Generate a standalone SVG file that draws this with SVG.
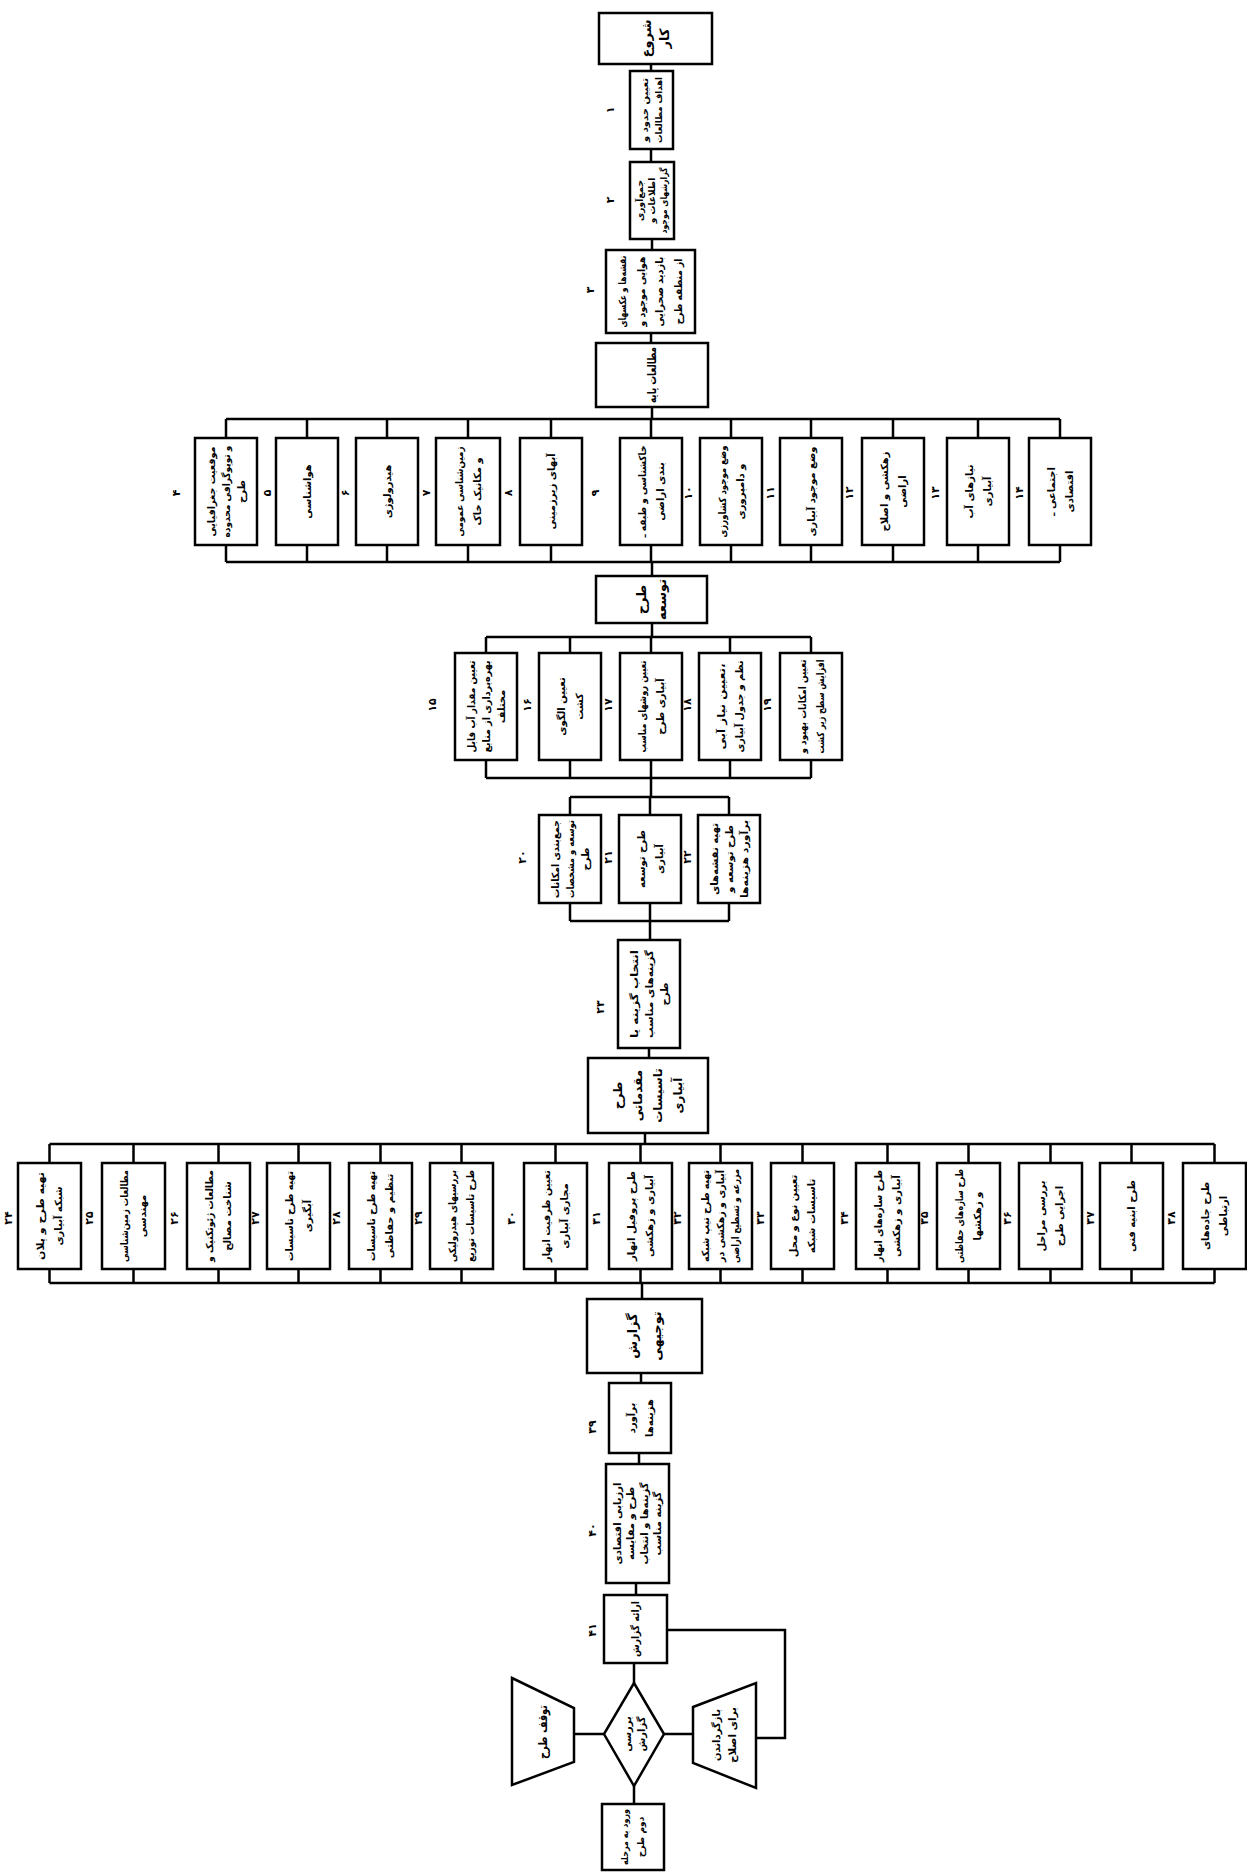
<svg xmlns="http://www.w3.org/2000/svg" width="1247" height="1876" viewBox="0 0 1247 1876">
<style>
.b{fill:#fff;stroke:#000;stroke-width:2.5}
.c{fill:none;stroke:#000;stroke-width:2.5}
text{font-family:"DejaVu Sans",sans-serif;font-weight:bold;text-anchor:middle;dominant-baseline:central;fill:#000}
.t{font-size:10px}
.s{font-size:9px}
.m{font-size:12px}
.l{font-size:13px}
.n{font-size:11px}
</style>
<rect width="1247" height="1876" fill="#fff"/>
<g id="connectors" class="c">
<path d="M651,64V71 M651,149V162 M652,239V250 M651,333V343 M652,407V419"/>
<path d="M226,419H1060 M226,562H1060 M226,419V438 M307,419V438 M387,419V438 M468,419V438 M551,419V438 M651,419V438 M731,419V438 M811,419V438 M893,419V438 M978,419V438 M1060,419V438 M226,545V562 M307,545V562 M387,545V562 M468,545V562 M551,545V562 M651,545V562 M731,545V562 M811,545V562 M893,545V562 M978,545V562 M1060,545V562 M652,562V576"/>
<path d="M652,623V637 M486,637H811 M486,778H811 M486,637V653 M570,637V653 M651,637V653 M730,637V653 M811,637V653 M486,760V778 M570,760V778 M651,760V778 M730,760V778 M811,760V778 M651,778V797"/>
<path d="M570,797H729 M570,921H729 M570,797V815 M650,797V815 M729,797V815 M570,903V921 M650,903V921 M729,903V921 M650,921V940 M649,1048V1058 M645,1133V1144"/>
<path d="M49.5,1144H1214.5 M49.5,1283H1214.5 M49.5,1144V1163 M133.5,1144V1163 M218.5,1144V1163 M298.5,1144V1163 M380.5,1144V1163 M461.5,1144V1163 M555.5,1144V1163 M640.5,1144V1163 M720.5,1144V1163 M802.5,1144V1163 M887.5,1144V1163 M968.5,1144V1163 M1050.5,1144V1163 M1131.5,1144V1163 M1214.5,1144V1163 M49.5,1269V1283 M133.5,1269V1283 M218.5,1269V1283 M298.5,1269V1283 M380.5,1269V1283 M461.5,1269V1283 M555.5,1269V1283 M640.5,1269V1283 M720.5,1269V1283 M802.5,1269V1283 M887.5,1269V1283 M968.5,1269V1283 M1050.5,1269V1283 M1131.5,1269V1283 M1214.5,1269V1283"/>
<path d="M642,1283V1299 M641,1373V1383 M639,1453V1464 M636,1583V1595 M634,1663V1683 M604,1734H574 M664,1734H693 M634,1786V1804 M756,1738H785V1630H667"/>
</g>
<g id="labels" class="n">
<text transform="translate(610,110) rotate(-90)">۱</text>
<text transform="translate(610,200) rotate(-90)">۲</text>
<text transform="translate(590,290) rotate(-90)">۳</text>
<text transform="translate(176,493) rotate(-90)">۴</text>
<text transform="translate(267,493) rotate(-90)">۵</text>
<text transform="translate(345,493) rotate(-90)">۶</text>
<text transform="translate(426,493) rotate(-90)">۷</text>
<text transform="translate(508,493) rotate(-90)">۸</text>
<text transform="translate(595,493) rotate(-90)">۹</text>
<text transform="translate(688,493) rotate(-90)">۱۰</text>
<text transform="translate(770,493) rotate(-90)">۱۱</text>
<text transform="translate(849,493) rotate(-90)">۱۲</text>
<text transform="translate(935,493) rotate(-90)">۱۳</text>
<text transform="translate(1019,493) rotate(-90)">۱۴</text>
<text transform="translate(432,705) rotate(-90)">۱۵</text>
<text transform="translate(527,705) rotate(-90)">۱۶</text>
<text transform="translate(608,705) rotate(-90)">۱۷</text>
<text transform="translate(687,705) rotate(-90)">۱۸</text>
<text transform="translate(767,705) rotate(-90)">۱۹</text>
<text transform="translate(522,857) rotate(-90)">۲۰</text>
<text transform="translate(608,857) rotate(-90)">۲۱</text>
<text transform="translate(687,857) rotate(-90)">۲۲</text>
<text transform="translate(600,1007) rotate(-90)">۲۳</text>
<text transform="translate(8,1218) rotate(-90)">۲۴</text>
<text transform="translate(89,1218) rotate(-90)">۲۵</text>
<text transform="translate(174,1218) rotate(-90)">۲۶</text>
<text transform="translate(255,1218) rotate(-90)">۲۷</text>
<text transform="translate(336,1218) rotate(-90)">۲۸</text>
<text transform="translate(418,1218) rotate(-90)">۲۹</text>
<text transform="translate(511,1218) rotate(-90)">۳۰</text>
<text transform="translate(596,1218) rotate(-90)">۳۱</text>
<text transform="translate(677,1218) rotate(-90)">۳۲</text>
<text transform="translate(760,1218) rotate(-90)">۳۳</text>
<text transform="translate(844,1218) rotate(-90)">۳۴</text>
<text transform="translate(924,1218) rotate(-90)">۳۵</text>
<text transform="translate(1007,1218) rotate(-90)">۳۶</text>
<text transform="translate(1090,1218) rotate(-90)">۳۷</text>
<text transform="translate(1171,1218) rotate(-90)">۳۸</text>
<text transform="translate(592,1427) rotate(-90)">۳۹</text>
<text transform="translate(592,1530) rotate(-90)">۴۰</text>
<text transform="translate(592,1630) rotate(-90)">۴۱</text>
</g>
<g id="n0"><rect class="b" x="599" y="13" width="113" height="51"/><g transform="translate(655.5,38.5) rotate(-90)"><text class="l" y="-9">شروع</text><text class="l" y="9">کار</text></g></g>
<g id="n1"><rect class="b" x="630" y="71" width="43" height="78"/><g transform="translate(651.5,110) rotate(-90)"><text class="s" y="-7" textLength="64" lengthAdjust="spacingAndGlyphs">تعیین حدود و</text><text class="s" y="7" textLength="66" lengthAdjust="spacingAndGlyphs">اهداف مطالعات</text></g></g>
<g id="n2"><rect class="b" x="630" y="162" width="44" height="77"/><g transform="translate(652,200.5) rotate(-90)"><text class="s" y="-12">جمع‌آوری</text><text class="s" y="0">اطلاعات و</text><text class="s" y="12" textLength="66" lengthAdjust="spacingAndGlyphs">گزارشهای موجود</text></g></g>
<g id="n3"><rect class="b" x="606" y="250" width="89" height="83"/><g transform="translate(650.5,291.5) rotate(-90)"><text class="t" y="-28" textLength="72" lengthAdjust="spacingAndGlyphs">نقشه‌ها و عکسهای</text><text class="t" y="-9" textLength="70" lengthAdjust="spacingAndGlyphs">هوایی موجود و</text><text class="t" y="9" textLength="70" lengthAdjust="spacingAndGlyphs">بازدید صحرایی</text><text class="t" y="28" textLength="66" lengthAdjust="spacingAndGlyphs">از منطقه طرح</text></g></g>
<g id="n_base"><rect class="b" x="596" y="343" width="112" height="64"/><g transform="translate(652,375) rotate(-90)"><text class="m" textLength="56" lengthAdjust="spacingAndGlyphs">مطالعات پایه</text></g></g>
<g id="n4"><rect class="b" x="195" y="438" width="62" height="107"/><g transform="translate(226,491.5) rotate(-90)"><text class="t" y="-15" textLength="90" lengthAdjust="spacingAndGlyphs">موقعیت جغرافیایی</text><text class="t" y="0" textLength="92" lengthAdjust="spacingAndGlyphs">و توپوگرافی محدوده</text><text class="t" y="15">طرح</text></g></g>
<g id="n5"><rect class="b" x="276" y="438" width="62" height="107"/><g transform="translate(307,491.5) rotate(-90)"><text class="t">هواشناسی</text></g></g>
<g id="n6"><rect class="b" x="356" y="438" width="62" height="107"/><g transform="translate(387,491.5) rotate(-90)"><text class="t">هیدرولوژی</text></g></g>
<g id="n7"><rect class="b" x="436" y="438" width="64" height="107"/><g transform="translate(468,491.5) rotate(-90)"><text class="t" y="-9" textLength="90" lengthAdjust="spacingAndGlyphs">زمین‌شناسی عمومی</text><text class="t" y="9">و مکانیک خاک</text></g></g>
<g id="n8"><rect class="b" x="520" y="438" width="62" height="107"/><g transform="translate(551,491.5) rotate(-90)"><text class="t">آبهای زیرزمینی</text></g></g>
<g id="n9"><rect class="b" x="620" y="438" width="62" height="107"/><g transform="translate(651,491.5) rotate(-90)"><text class="t" y="-9" textLength="92" lengthAdjust="spacingAndGlyphs">خاکشناسی و طبقه ـ</text><text class="t" y="9">بندی اراضی</text></g></g>
<g id="n10"><rect class="b" x="700" y="438" width="62" height="107"/><g transform="translate(731,491.5) rotate(-90)"><text class="t" y="-9" textLength="92" lengthAdjust="spacingAndGlyphs">وضع موجود کشاورزی</text><text class="t" y="9">و دامپروری</text></g></g>
<g id="n11"><rect class="b" x="780" y="438" width="62" height="107"/><g transform="translate(811,491.5) rotate(-90)"><text class="t" textLength="90" lengthAdjust="spacingAndGlyphs">وضع موجود آبیاری</text></g></g>
<g id="n12"><rect class="b" x="862" y="438" width="62" height="107"/><g transform="translate(893,491.5) rotate(-90)"><text class="t" y="-9">زهکشی و اصلاح</text><text class="t" y="9">اراضی</text></g></g>
<g id="n13"><rect class="b" x="947" y="438" width="62" height="107"/><g transform="translate(978,491.5) rotate(-90)"><text class="t" y="-9">نیازهای آب</text><text class="t" y="9">آبیاری</text></g></g>
<g id="n14"><rect class="b" x="1029" y="438" width="62" height="107"/><g transform="translate(1060,491.5) rotate(-90)"><text class="t" y="-9">اجتماعی ـ</text><text class="t" y="9">اقتصادی</text></g></g>
<g id="n_dev"><rect class="b" x="596" y="576" width="111" height="47"/><g transform="translate(651.5,599.5) rotate(-90)"><text class="l" y="-10">طرح</text><text class="l" y="10">توسعه</text></g></g>
<g id="n15"><rect class="b" x="455" y="653" width="62" height="107"/><g transform="translate(486,706.5) rotate(-90)"><text class="t" y="-15" textLength="92" lengthAdjust="spacingAndGlyphs">تعیین مقدار آب قابل</text><text class="t" y="0" textLength="92" lengthAdjust="spacingAndGlyphs">بهره‌برداری از منابع</text><text class="t" y="15">مختلف</text></g></g>
<g id="n16"><rect class="b" x="539" y="653" width="62" height="107"/><g transform="translate(570,706.5) rotate(-90)"><text class="t" y="-9">تعیین الگوی</text><text class="t" y="9">کشت</text></g></g>
<g id="n17"><rect class="b" x="620" y="653" width="62" height="107"/><g transform="translate(651,706.5) rotate(-90)"><text class="t" y="-9" textLength="92" lengthAdjust="spacingAndGlyphs">تعیین روشهای مناسب</text><text class="t" y="9">آبیاری طرح</text></g></g>
<g id="n18"><rect class="b" x="699" y="653" width="62" height="107"/><g transform="translate(730,706.5) rotate(-90)"><text class="t" y="-9" textLength="86" lengthAdjust="spacingAndGlyphs">تعیین نیاز آبی،</text><text class="t" y="9" textLength="92" lengthAdjust="spacingAndGlyphs">نظم و جدول آبیاری</text></g></g>
<g id="n19"><rect class="b" x="780" y="653" width="62" height="107"/><g transform="translate(811,706.5) rotate(-90)"><text class="t" y="-9" textLength="94" lengthAdjust="spacingAndGlyphs">تعیین امکانات بهبود و</text><text class="t" y="9" textLength="94" lengthAdjust="spacingAndGlyphs">افزایش سطح زیر کشت</text></g></g>
<g id="n20"><rect class="b" x="539" y="815" width="62" height="88"/><g transform="translate(570,859) rotate(-90)"><text class="t" y="-15" textLength="78" lengthAdjust="spacingAndGlyphs">جمع‌بندی امکانات</text><text class="t" y="0" textLength="78" lengthAdjust="spacingAndGlyphs">توسعه و مشخصات</text><text class="t" y="15">طرح</text></g></g>
<g id="n21"><rect class="b" x="619" y="815" width="62" height="88"/><g transform="translate(650,859) rotate(-90)"><text class="t" y="-9">طرح توسعه</text><text class="t" y="9">آبیاری</text></g></g>
<g id="n22"><rect class="b" x="698" y="815" width="62" height="88"/><g transform="translate(729,859) rotate(-90)"><text class="t" y="-15" textLength="72" lengthAdjust="spacingAndGlyphs">تهیه نقشه‌های</text><text class="t" y="0">طرح توسعه و</text><text class="t" y="15" textLength="78" lengthAdjust="spacingAndGlyphs">برآورد هزینه‌ها</text></g></g>
<g id="n23"><rect class="b" x="618" y="940" width="62" height="108"/><g transform="translate(649,994) rotate(-90)"><text class="t" y="-15" textLength="88" lengthAdjust="spacingAndGlyphs">انتخاب گزینه یا</text><text class="t" y="0" textLength="88" lengthAdjust="spacingAndGlyphs">گزینه‌های مناسب</text><text class="t" y="15">طرح</text></g></g>
<g id="n_pre"><rect class="b" x="588" y="1058" width="120" height="75"/><g transform="translate(648,1095.5) rotate(-90)"><text class="m" y="-30">طرح</text><text class="m" y="-10">مقدماتی</text><text class="m" y="10">تاسیسات</text><text class="m" y="30">آبیاری</text></g></g>
<g id="n24"><rect class="b" x="18" y="1163" width="63" height="106"/><g transform="translate(49.5,1216) rotate(-90)"><text class="t" y="-9" textLength="88" lengthAdjust="spacingAndGlyphs">تهیه طرح و پلان</text><text class="t" y="9">شبکه آبیاری</text></g></g>
<g id="n25"><rect class="b" x="102" y="1163" width="63" height="106"/><g transform="translate(133.5,1216) rotate(-90)"><text class="t" y="-9" textLength="92" lengthAdjust="spacingAndGlyphs">مطالعات زمین‌شناسی</text><text class="t" y="9">مهندسی</text></g></g>
<g id="n26"><rect class="b" x="187" y="1163" width="63" height="106"/><g transform="translate(218.5,1216) rotate(-90)"><text class="t" y="-9" textLength="92" lengthAdjust="spacingAndGlyphs">مطالعات ژئوتکنیک و</text><text class="t" y="9">شناخت مصالح</text></g></g>
<g id="n27"><rect class="b" x="267" y="1163" width="63" height="106"/><g transform="translate(298.5,1216) rotate(-90)"><text class="t" y="-9" textLength="90" lengthAdjust="spacingAndGlyphs">تهیه طرح تاسیسات</text><text class="t" y="9">آبگیری</text></g></g>
<g id="n28"><rect class="b" x="349" y="1163" width="63" height="106"/><g transform="translate(380.5,1216) rotate(-90)"><text class="t" y="-9" textLength="90" lengthAdjust="spacingAndGlyphs">تهیه طرح تاسیسات</text><text class="t" y="9">تنظیم و حفاظتی</text></g></g>
<g id="n29"><rect class="b" x="430" y="1163" width="63" height="106"/><g transform="translate(461.5,1216) rotate(-90)"><text class="t" y="-9" textLength="92" lengthAdjust="spacingAndGlyphs">بررسیهای هیدرولیکی</text><text class="t" y="9" textLength="92" lengthAdjust="spacingAndGlyphs">طرح تاسیسات توزیع</text></g></g>
<g id="n30"><rect class="b" x="524" y="1163" width="63" height="106"/><g transform="translate(555.5,1216) rotate(-90)"><text class="t" y="-9" textLength="92" lengthAdjust="spacingAndGlyphs">تعیین ظرفیت انهار</text><text class="t" y="9">مجاری آبیاری</text></g></g>
<g id="n31"><rect class="b" x="609" y="1163" width="63" height="106"/><g transform="translate(640.5,1216) rotate(-90)"><text class="t" y="-9" textLength="90" lengthAdjust="spacingAndGlyphs">طرح پروفیل انهار</text><text class="t" y="9">آبیاری و زهکشی</text></g></g>
<g id="n32"><rect class="b" x="689" y="1163" width="63" height="106"/><g transform="translate(720.5,1216) rotate(-90)"><text class="t" y="-15" textLength="92" lengthAdjust="spacingAndGlyphs">تهیه طرح تیپ شبکه</text><text class="t" y="0" textLength="92" lengthAdjust="spacingAndGlyphs">آبیاری و زهکشی در</text><text class="t" y="15" textLength="94" lengthAdjust="spacingAndGlyphs">مزرعه و تسطیح اراضی</text></g></g>
<g id="n33"><rect class="b" x="771" y="1163" width="63" height="106"/><g transform="translate(802.5,1216) rotate(-90)"><text class="t" y="-9">تعیین نوع و محل</text><text class="t" y="9">تاسیسات شبکه</text></g></g>
<g id="n34"><rect class="b" x="856" y="1163" width="63" height="106"/><g transform="translate(887.5,1216) rotate(-90)"><text class="t" y="-9" textLength="92" lengthAdjust="spacingAndGlyphs">طرح سازه‌های انهار</text><text class="t" y="9">آبیاری و زهکشی</text></g></g>
<g id="n35"><rect class="b" x="937" y="1163" width="63" height="106"/><g transform="translate(968.5,1216) rotate(-90)"><text class="t" y="-9" textLength="94" lengthAdjust="spacingAndGlyphs">طرح سازه‌های حفاظتی</text><text class="t" y="9">و زهکشها</text></g></g>
<g id="n36"><rect class="b" x="1019" y="1163" width="63" height="106"/><g transform="translate(1050.5,1216) rotate(-90)"><text class="t" y="-9">بررسی مراحل</text><text class="t" y="9">اجرایی طرح</text></g></g>
<g id="n37"><rect class="b" x="1100" y="1163" width="63" height="106"/><g transform="translate(1131.5,1216) rotate(-90)"><text class="t">طرح ابنیه فنی</text></g></g>
<g id="n38"><rect class="b" x="1183" y="1163" width="63" height="106"/><g transform="translate(1214.5,1216) rotate(-90)"><text class="t" y="-9">طرح جاده‌های</text><text class="t" y="9">ارتباطی</text></g></g>
<g id="n_rep"><rect class="b" x="587" y="1299" width="115" height="74"/><g transform="translate(644.5,1336) rotate(-90)"><text class="l" y="-12">گزارش</text><text class="l" y="12">توجیهی</text></g></g>
<g id="n39"><rect class="b" x="609" y="1383" width="62" height="70"/><g transform="translate(640,1418) rotate(-90)"><text class="t" y="-9">برآورد</text><text class="t" y="9">هزینه‌ها</text></g></g>
<g id="n40"><rect class="b" x="606" y="1464" width="63" height="119"/><g transform="translate(637.5,1523.5) rotate(-90)"><text class="t" y="-20">ارزیابی اقتصادی</text><text class="t" y="-7">طرح و مقایسه</text><text class="t" y="7">گزینه‌ها و انتخاب</text><text class="t" y="20">گزینه مناسب</text></g></g>
<g id="n41"><rect class="b" x="604" y="1595" width="63" height="68"/><g transform="translate(635.5,1629) rotate(-90)"><text class="t" textLength="56" lengthAdjust="spacingAndGlyphs">ارائه گزارش</text></g></g>
<g id="n_check"><polygon class="b" points="634,1683 664,1734 634,1786 604,1734"/><g transform="translate(634,1734) rotate(-90)"><text class="t" y="-7">بررسی</text><text class="t" y="7">گزارش</text></g></g>
<g id="n_stop"><polygon class="b" points="512,1678 574,1708 574,1762 512,1785"/><g transform="translate(543,1732) rotate(-90)"><text class="m" textLength="54" lengthAdjust="spacingAndGlyphs">توقف طرح</text></g></g>
<g id="n_return"><polygon class="b" points="693,1707 756,1683 756,1788 693,1763"/><g transform="translate(724.5,1735) rotate(-90)"><text class="t" y="-8" textLength="52" lengthAdjust="spacingAndGlyphs">بازگرداندن</text><text class="t" y="8" textLength="56" lengthAdjust="spacingAndGlyphs">برای اصلاح</text></g></g>
<g id="n_next"><rect class="b" x="602" y="1804" width="62" height="66"/><g transform="translate(633,1837) rotate(-90)"><text class="s" y="-8" textLength="56" lengthAdjust="spacingAndGlyphs">ورود به مرحله</text><text class="s" y="8">دوم طرح</text></g></g>
</svg>
